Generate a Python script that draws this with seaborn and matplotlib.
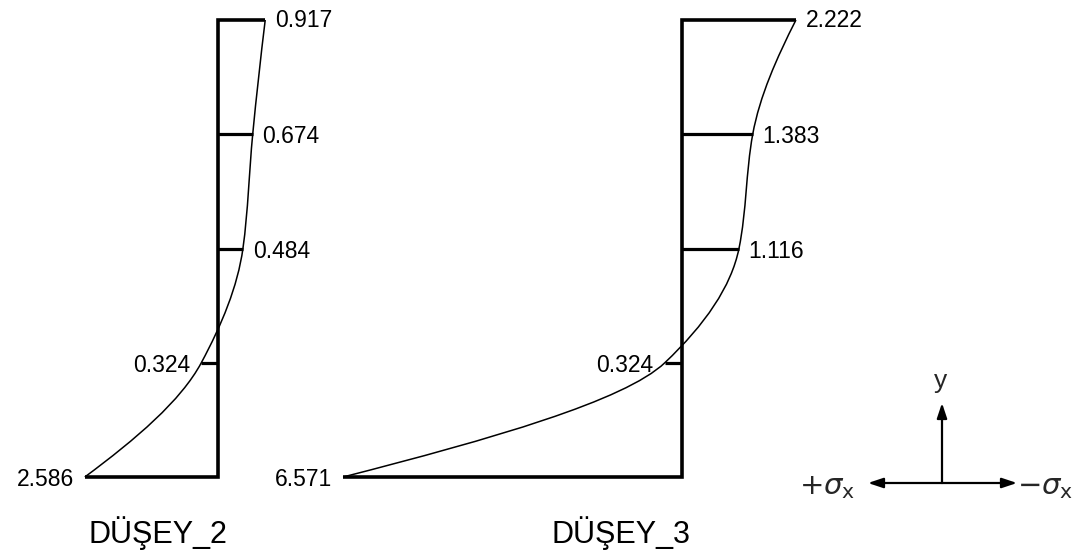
import numpy as np
import pandas as pd
import matplotlib
matplotlib.use("Agg")
import matplotlib.pyplot as plt
from matplotlib.path import Path
from matplotlib.patches import PathPatch
import seaborn as sns

# Section heights along the wall (fraction of wall height, from the base)
heights = [0.0, 0.25, 0.5, 0.75, 1.0]

# Horizontal stress sigma_x at each section; positive = +sigma_x (drawn to the left)
sigma_dusey2 = [2.586, 0.324, -0.484, -0.674, -0.917]
sigma_dusey3 = [6.571, 0.324, -1.116, -1.383, -2.222]

# Printed values at each section
labels_dusey2 = ["2.586", "0.324", "0.484", "0.674", "0.917"]
labels_dusey3 = ["6.571", "0.324", "1.116", "1.383", "2.222"]

wall_names = ["DÜŞEY_2", "DÜŞEY_3"]

# horizontal position of each wall axis (in stress units)
wall_base = [0.0, 9.0]

sns.set_theme(style="white")
plt.rcParams["font.family"] = ["Liberation Sans", "DejaVu Sans"]

PX_PER_UNIT = 51.5
W, H = 1089, 559

fig = plt.figure(figsize=(W / 100, H / 100), dpi=100)
ax = fig.add_axes([0, 0, 1, 1])
ax.set_xlim(-218 / PX_PER_UNIT, (W - 218) / PX_PER_UNIT)
ax.set_ylim(-82 / 457, 477 / 457)
ax.set_axis_off()


def monotone_slopes(h, x):
    """Fritsch-Carlson (PCHIP) slopes dx/dh at each section."""
    h = np.asarray(h, float)
    x = np.asarray(x, float)
    dh = np.diff(h)
    d = np.diff(x) / dh
    m = np.zeros_like(x)
    for i in range(1, len(x) - 1):
        if d[i - 1] * d[i] > 0:
            w1 = 2 * dh[i] + dh[i - 1]
            w2 = dh[i] + 2 * dh[i - 1]
            m[i] = (w1 + w2) / (w1 / d[i - 1] + w2 / d[i])
    for end, (i0, i1, j) in ((0, (0, 1, 0)), (-1, (-1, -2, -1))):
        a, b = d[i0], d[i1]
        ha, hb = dh[i0], dh[i1]
        m_end = ((2 * ha + hb) * a - ha * b) / (ha + hb)
        if np.sign(m_end) != np.sign(a):
            m_end = 0.0
        elif np.sign(a) != np.sign(b) and abs(m_end) > abs(3 * a):
            m_end = 3 * a
        m[j] = m_end
    return m


def smooth_path(xs, hs):
    """x(h) as a piecewise cubic Hermite curve, written as Bezier segments."""
    m = monotone_slopes(hs, xs)
    verts = [(xs[0], hs[0])]
    codes = [Path.MOVETO]
    for i in range(len(xs) - 1):
        step = (hs[i + 1] - hs[i]) / 3
        verts += [(xs[i] + m[i] * step, hs[i] + step),
                  (xs[i + 1] - m[i + 1] * step, hs[i + 1] - step),
                  (xs[i + 1], hs[i + 1])]
        codes += [Path.CURVE4] * 3
    return Path(verts, codes)


def draw_wall(base, sigma, labels, name):
    xs = [base - s for s in sigma]

    # wall axis with the end sections (base and top)
    outline = pd.DataFrame({
        "x": [xs[-1], base, base, xs[0]],
        "y": [heights[-1], heights[-1], heights[0], heights[0]],
    })
    sns.lineplot(data=outline, x="x", y="y", sort=False, estimator=None,
                 color="black", lw=2.6, ax=ax, legend=False,
                 solid_joinstyle="miter", solid_capstyle="butt")

    # inner sections
    for x, h in zip(xs[1:-1], heights[1:-1]):
        ax.plot([base, x], [h, h], color="black", lw=2.3, solid_capstyle="butt")

    # stress distribution
    ax.add_patch(PathPatch(smooth_path(xs, heights), fill=False,
                           edgecolor="black", lw=1.1))

    # value labels
    for x, h, s, lab in zip(xs, heights, sigma, labels):
        if s < 0:
            dx, ha = 7, "left"
        else:
            dx, ha = -8, "right"
        dy = 1.5 if h == heights[-1] else 0
        ax.annotate(lab, (x, h), xytext=(dx, dy), textcoords="offset points",
                    ha=ha, va="center_baseline", fontsize=16.5, color="black")

    ax.text(base - 1.17, -0.123, name, ha="center", va="center",
            fontsize=22, color="black")


draw_wall(wall_base[0], sigma_dusey2, labels_dusey2, wall_names[0])
draw_wall(wall_base[1], sigma_dusey3, labels_dusey3, wall_names[1])

# sign convention sketch
origin = (942 / W, 1 - 483 / H)
arrow = dict(arrowstyle="-|>,head_length=0.9,head_width=0.3", color="black",
             lw=1.6, shrinkA=0, shrinkB=0, mutation_scale=10)
ax.annotate("", xy=(942 / W, 1 - 403 / H), xytext=origin,
            xycoords="axes fraction", arrowprops=arrow)
ax.annotate("", xy=(868 / W, 1 - 483 / H), xytext=origin,
            xycoords="axes fraction", arrowprops=arrow)
ax.annotate("", xy=(1017 / W, 1 - 483 / H), xytext=origin,
            xycoords="axes fraction", arrowprops=arrow)
ax.text(941 / W, 1 - 381 / H, "y", transform=ax.transAxes, ha="center",
        va="center", fontsize=19)
ax.text(855 / W, 1 - 487 / H, r"$+\sigma_{\mathrm{x}}$", transform=ax.transAxes,
        ha="right", va="center", fontsize=21)
ax.text(1017 / W, 1 - 487 / H, r"$-\sigma_{\mathrm{x}}$", transform=ax.transAxes,
        ha="left", va="center", fontsize=21)

fig.savefig("out.png", dpi=100, facecolor="white")
